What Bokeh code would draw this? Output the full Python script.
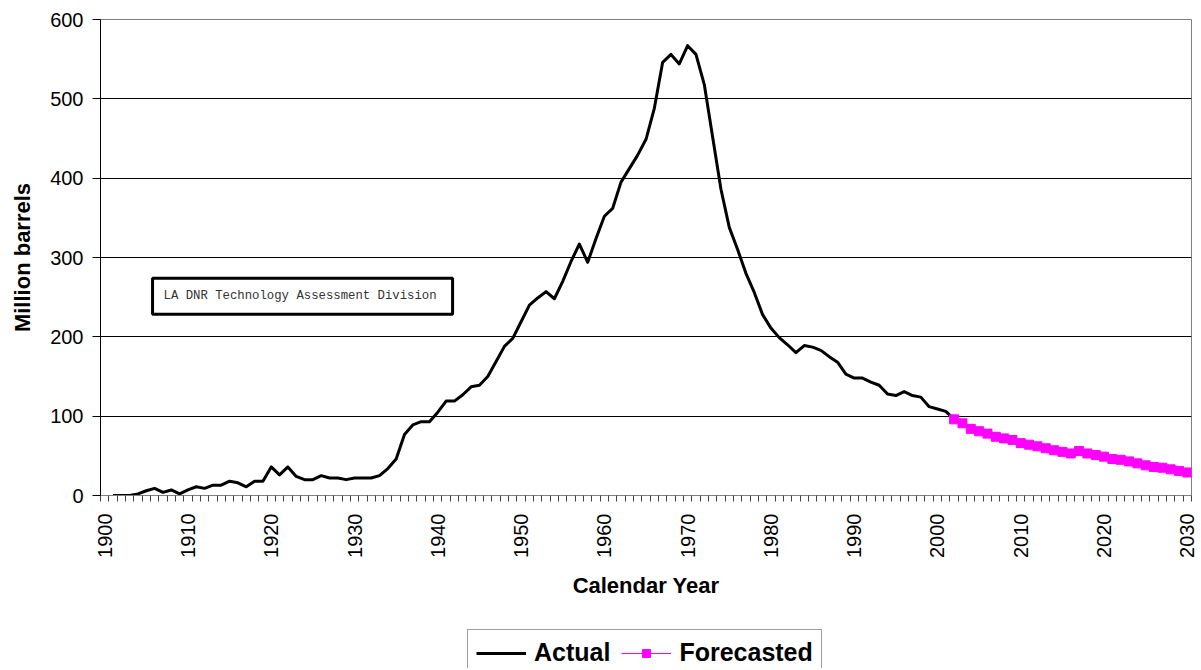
import math
from bokeh.plotting import figure
from bokeh.layouts import column
from bokeh.models import (Range1d, FixedTicker, Legend, LegendItem, Label)
from bokeh.embed import file_html
from bokeh.resources import INLINE

# ---- data ----
actual_years = list(range(1901, 2003))
actual_values = [0, 0, 0, 2, 6, 9, 4, 7, 2, 7,
                 11, 9, 13, 13, 18, 16, 11, 18, 18, 36,
                 26, 36, 24, 20, 20, 25, 22, 22, 20, 22,
                 22, 22, 25, 34, 46, 77, 89, 93, 93, 105,
                 119, 119, 127, 137, 139, 150, 169, 188, 198, 219,
                 240, 249, 257, 248, 270, 295, 317, 294, 324, 352,
                 362, 395, 412, 429, 449, 488, 546, 556, 544, 567,
                 556, 518, 452, 386, 338, 310, 280, 256, 228, 211,
                 199, 190, 180, 189, 187, 183, 175, 168, 153, 148,
                 148, 143, 139, 128, 126, 131, 126, 124, 112, 109,
                 106, 96]
forecast_years = list(range(2002, 2031))
forecast_values = [96, 91, 84, 81, 78, 74, 72, 70, 66, 64,
                   62, 59.5, 57, 55, 53, 56, 53, 51, 49, 46,
                   45, 43, 40.5, 38, 36, 35, 33, 31, 29]
x_tick_labels = list(range(1900, 2031, 10))
y_ticks = [0, 100, 200, 300, 400, 500, 600]
note_text = "LA DNR Technology Assessment Division"

FONT = "Liberation Sans"
BLACK = "black"
MAGENTA = "#FF00FF"
W = 1198

p = figure(width=W, height=628, output_backend="svg", toolbar_location=None,
           x_range=Range1d(1899.5, 2030.5), y_range=Range1d(0, 600),
           min_border_left=100, min_border_right=7, min_border_top=19,
           min_border_bottom=133)

p.outline_line_color = "#808080"
p.outline_line_width = 1
p.background_fill_color = "white"
p.border_fill_color = "white"

# grids
p.xgrid.grid_line_color = None
p.ygrid.grid_line_color = "black"
p.ygrid.grid_line_width = 1
p.ygrid.ticker = FixedTicker(ticks=y_ticks)

# x axis
xa = p.xaxis[0]
xa.ticker = FixedTicker(ticks=x_tick_labels,
                        minor_ticks=[1899.5 + i for i in range(132)])
xa.major_tick_line_color = None
xa.major_tick_out = 6
xa.minor_tick_out = 6
xa.minor_tick_in = 0
xa.minor_tick_line_color = "#404040"
xa.axis_line_color = "#808080"
xa.major_label_orientation = math.pi / 2
xa.major_label_standoff = 12
xa.major_label_text_font = FONT
xa.major_label_text_font_size = "20px"
xa.major_label_text_color = "black"
xa.axis_label = "Calendar Year"
xa.axis_label_text_font = FONT
xa.axis_label_text_font_size = "22px"
xa.axis_label_text_font_style = "bold"
xa.axis_label_text_color = "black"
xa.axis_label_standoff = 12

# y axis
ya = p.yaxis[0]
ya.ticker = FixedTicker(ticks=y_ticks)
ya.major_tick_out = 8
ya.major_tick_in = 0
ya.major_tick_line_color = "black"
ya.minor_tick_line_color = None
ya.axis_line_color = "black"
ya.major_label_standoff = 9
ya.major_label_text_font = FONT
ya.major_label_text_font_size = "20px"
ya.major_label_text_color = "black"
ya.axis_label = "Million barrels"
ya.axis_label_text_font = FONT
ya.axis_label_text_font_size = "22px"
ya.axis_label_text_font_style = "bold"
ya.axis_label_text_color = "black"
ya.axis_label_standoff = 12

# series
p.line(actual_years, actual_values, line_color=BLACK, line_width=3,
       line_join="round")
p.line(forecast_years, forecast_values, line_color=MAGENTA, line_width=1)
p.scatter(forecast_years, forecast_values, marker="square", size=9,
          fill_color=MAGENTA, line_color=MAGENTA)

# annotation box
note = Label(x=1905.75, y=251, text=note_text, text_font="Liberation Mono",
             text_font_size="12.3px", text_color="#333333",
             text_baseline="middle", text_align="left",
             border_line_color="black", border_line_width=3,
             background_fill_color="white",
             padding=dict(left=11, right=16, top=11, bottom=11))
p.add_layout(note)

# legend strip (separate small figure below the chart; its ranges keep the
# series themselves out of view so only the legend shows)
lg = figure(width=W, height=40, output_backend="svg", toolbar_location=None,
            x_range=Range1d(0, 1), y_range=Range1d(0, 1),
            x_axis_type=None, y_axis_type=None,
            min_border_left=100, min_border_right=7, min_border_top=0,
            min_border_bottom=0)
lg.outline_line_color = None
lg.grid.visible = False
la = lg.line(actual_years, actual_values, line_color=BLACK, line_width=3)
lf = lg.line(forecast_years, forecast_values, line_color=MAGENTA, line_width=1)
ls = lg.scatter(forecast_years, forecast_values, marker="square", size=8,
                fill_color=MAGENTA, line_color=MAGENTA)
legend = Legend(items=[LegendItem(label="Actual", renderers=[la]),
                       LegendItem(label="Forecasted", renderers=[lf, ls])],
                orientation="horizontal", location=(367, -8),
                label_text_font=FONT, label_text_font_size="25px",
                label_text_font_style="bold", label_text_color="black",
                glyph_width=50, glyph_height=20, label_standoff=8,
                spacing=11, padding=8, margin=0,
                border_line_color="#404040", border_line_width=1,
                background_fill_color="white", background_fill_alpha=1)
lg.add_layout(legend, "center")

open("out.html", "w").write(file_html(column(p, lg, spacing=0), INLINE))
